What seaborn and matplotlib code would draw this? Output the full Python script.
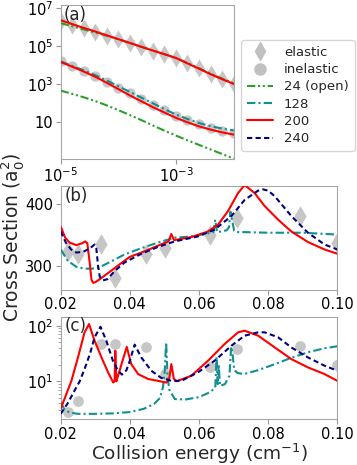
import matplotlib
matplotlib.use("Agg")
import matplotlib.pyplot as plt
import matplotlib.ticker as mticker
from matplotlib.lines import Line2D
import seaborn as sns

# ---------------- panel (a): low energy, log-log ----------------
energy_a = [1e-5, 1.58e-5, 2.51e-5, 3.98e-5, 6.31e-5, 1e-4, 1.58e-4, 2.51e-4,
            3.98e-4, 6.31e-4, 1e-3, 1.58e-3, 2.51e-3, 3.98e-3, 6.31e-3, 1e-2]
elastic_a = [2.0e6, 1.32e6, 8.5e5, 5.6e5, 3.6e5, 2.3e5, 1.45e5, 9.3e4,
             5.9e4, 3.7e4, 2.35e4, 1.26e4, 6.8e3, 3.5e3, 1.9e3, 1.0e3]
inelastic_a = [1.6e4, 8.9e3, 5.0e3, 2.6e3, 1.35e3, 676, 331, 170,
               85, 46, 22.4, 13.2, 7.9, 5.2, 3.7, 2.8]
el24_a = [1.62e6, 1.12e6, 7.6e5, 5.2e5, 3.55e5, 2.3e5, 1.48e5, 9.3e4,
          5.9e4, 3.8e4, 2.4e4, 1.29e4, 6.9e3, 3.6e3, 2.0e3, 1.12e3]
el200_a = [2.3e6, 1.45e6, 9.1e5, 5.9e5, 3.7e5, 2.35e5, 1.48e5, 9.3e4,
           5.9e4, 3.8e4, 2.4e4, 1.26e4, 6.6e3, 3.4e3, 1.86e3, 1.05e3]
in24_a = [468, 316, 209, 132, 78, 44, 24.5, 13.2,
          6.9, 3.7, 2.04, 1.15, 0.66, 0.38, 0.22, 0.126]
in128_a = [1.6e4, 9.3e3, 5.4e3, 3.0e3, 1.58e3, 794, 398, 200,
           100, 50, 25.7, 15.1, 9.3, 6.3, 4.8, 3.8]
in200_a = [1.48e4, 8.5e3, 4.7e3, 2.5e3, 1.2e3, 562, 263, 129,
           63, 33, 17.4, 10.2, 6.2, 4.2, 3.0, 2.3]

# ---------------- points shared by (b) and (c) ----------------
energy_pts = [0.0221, 0.0250, 0.0316, 0.0357, 0.0448, 0.0503, 0.0631, 0.0711, 0.0892, 0.1000]
elastic_pts = [323, 318, 334, 280, 318, 328, 350, 377, 380, 337]
inelastic_pts = [2.75, 4.4, 46.8, 46.8, 40.7, 13.8, 17.8, 38.0, 42.7, 20.0]

# ---------------- panel (b): elastic, linear ----------------
x200_b = [0.0200, 0.0213, 0.0226, 0.0245, 0.0262, 0.0271, 0.0277, 0.0284, 0.0289, 0.0294,
          0.0300, 0.0318, 0.0347, 0.0385, 0.0400, 0.0443, 0.0481, 0.0512, 0.0520, 0.0528,
          0.0578, 0.0626, 0.0655, 0.0684, 0.0713, 0.0732, 0.0761, 0.0790, 0.0829, 0.0867,
          0.0915, 0.0963, 0.1000]
y200_b = [363, 345, 337, 333, 336, 339, 336, 304, 277, 272,
          273, 280, 292, 308, 314, 323, 332, 339, 351, 341,
          346, 355, 366, 388, 417, 430, 417, 396, 374, 355,
          338, 326, 319]
x240_b = [0.0200, 0.0215, 0.0230, 0.0245, 0.0265, 0.0285, 0.0298, 0.0303, 0.0308, 0.0313,
          0.0322, 0.0335, 0.0356, 0.0385, 0.0433, 0.0481, 0.0530, 0.0597, 0.0645, 0.0694,
          0.0732, 0.0771, 0.0785, 0.0800, 0.0819, 0.0867, 0.0915, 0.0963, 0.1000]
y240_b = [355, 337, 326, 321, 322, 328, 334, 328, 300, 282,
          276, 278, 291, 305, 319, 330, 339, 347, 358, 380,
          406, 421, 423, 421, 412, 380, 353, 334, 326]
x128_b = [0.0200, 0.0220, 0.0245, 0.0269, 0.0290, 0.0308, 0.0347, 0.0385, 0.0433, 0.0481,
          0.0530, 0.0578, 0.0626, 0.0642, 0.0647, 0.0652, 0.0665, 0.0680, 0.0687, 0.0691,
          0.0696, 0.0702, 0.0710, 0.0730, 0.0800, 0.0900, 0.1000]
y128_b = [326, 308, 298, 295, 295, 296, 307, 318, 328, 337,
          345, 347, 352, 354, 374, 354, 355, 357, 362, 387,
          372, 356, 354, 354, 353, 353, 350]

# ---------------- panel (c): inelastic, log ----------------
x200_c = [0.0200, 0.0215, 0.0231, 0.0250, 0.0269, 0.0282, 0.0298, 0.0318, 0.0337, 0.0352,
          0.0356, 0.0358, 0.0361, 0.0366, 0.0378, 0.0391, 0.0404, 0.0424, 0.0453, 0.0481,
          0.0506, 0.0514, 0.0520, 0.0527, 0.0535, 0.0578, 0.0626, 0.0674, 0.0713, 0.0732,
          0.0771, 0.0819, 0.0867, 0.0915, 0.0963, 0.1000]
y200_c = [3.2, 5.6, 10.2, 26.9, 75.9, 107, 53.7, 26.9, 14.5, 9.5,
          10.0, 35.5, 10.0, 12.6, 22.4, 41.7, 20.4, 13.5, 11.0, 10.2,
          9.5, 11.2, 20.4, 11.2, 10.0, 12.6, 23.4, 46.8, 75.9, 81.3,
          66.1, 40.7, 25.1, 17.8, 13.5, 10.2]
x240_c = [0.0200, 0.0220, 0.0240, 0.0255, 0.0269, 0.0285, 0.0298, 0.0315, 0.0332, 0.0351,
          0.0365, 0.0377, 0.0390, 0.0400, 0.0414, 0.0433, 0.0462, 0.0491, 0.0520, 0.0549,
          0.0597, 0.0645, 0.0694, 0.0732, 0.0771, 0.0790, 0.0829, 0.0867, 0.0915, 0.0963,
          0.1000]
y240_c = [2.6, 4.0, 6.8, 10.0, 16.6, 31.6, 61.7, 95.5, 53.7, 23.4,
          15.8, 13.2, 15.8, 23.4, 45.7, 26.9, 15.5, 11.5, 10.2, 10.2,
          14.5, 23.4, 43.7, 66.1, 75.9, 75.9, 61.7, 40.7, 26.9, 19.1,
          15.5]
x128_c = [0.0200, 0.0210, 0.0225, 0.0250, 0.0300, 0.0350, 0.0400, 0.0440, 0.0470, 0.0487,
          0.0496, 0.0501, 0.0505, 0.0509, 0.0514, 0.0530, 0.0560, 0.0600, 0.0630, 0.0647,
          0.0651, 0.0654, 0.0657, 0.0661, 0.0675, 0.0688, 0.0693, 0.0697, 0.0702, 0.0712,
          0.0730, 0.0770, 0.0820, 0.0870, 0.0920, 0.0960, 0.1000]
y128_c = [4.2, 3.2, 2.75, 2.6, 2.6, 2.65, 2.8, 3.2, 3.9, 5.0,
          7.9, 15.8, 50.1, 12.6, 7.1, 4.8, 4.7, 5.2, 6.3, 7.6,
          27.5, 8.9, 20.0, 8.3, 8.9, 12.6, 41.7, 31.6, 15.8, 14.1,
          13.5, 15.8, 20.4, 26.9, 33.9, 38.9, 42.7]

ticks_bc = [0.02, 0.04, 0.06, 0.08, 0.10]
tick_labels_bc = ["0.02", "0.04", "0.06", "0.08", "0.10"]

series_names = ["24 (open)", "128", "200", "240"]
series_colors = ["#2ca02c", "#109090", "red", "navy"]
series_styles = [(0, (4, 1.3, 1, 1.3, 1, 1.3)), (0, (4, 1.5, 1, 1.5)), "-", (0, (2.5, 1.6))]

# ---------------- style ----------------
sns.set_style("ticks", rc={
    "axes.edgecolor": "0.65",
    "xtick.color": "0.6",
    "ytick.color": "0.6",
})
plt.rcParams["font.family"] = ["DejaVu Sans"]
plt.rcParams["mathtext.fontset"] = "dejavusans"
plt.rcParams["xtick.labelcolor"] = "black"
plt.rcParams["ytick.labelcolor"] = "black"

fig = plt.figure(figsize=(3.57, 4.65), dpi=100)
ax_a = fig.add_axes([0.170, 0.658, 0.4846, 0.3318])
ax_b = fig.add_axes([0.170, 0.377, 0.7748, 0.2224])
ax_c = fig.add_axes([0.170, 0.0989, 0.7748, 0.22])

LW = 1.5


def draw_line(ax, x, y, idx):
    sns.lineplot(x=x, y=y, ax=ax, color=series_colors[idx], linestyle=series_styles[idx],
                 linewidth=LW, sort=False, estimator=None, legend=False, zorder=3)


def draw_pts(ax, x, y, marker, s):
    sns.scatterplot(x=x, y=y, ax=ax, marker=marker, s=s, color="silver",
                    linewidth=0, alpha=0.9, legend=False, zorder=2)


# panel (a)
ax_a.set_xscale("log")
ax_a.set_yscale("log")
draw_pts(ax_a, energy_a, elastic_a, "d", 85)
draw_pts(ax_a, energy_a, inelastic_a, "o", 55)
draw_line(ax_a, energy_a, el24_a, 0)
draw_line(ax_a, energy_a, in24_a, 0)
draw_line(ax_a, energy_a, in128_a, 1)
draw_line(ax_a, energy_a, el200_a, 2)
draw_line(ax_a, energy_a, in200_a, 2)
ax_a.set_xlim(1e-5, 1e-2)
ax_a.set_ylim(0.12, 1.5e7)
ax_a.xaxis.set_major_locator(mticker.FixedLocator([1e-5, 1e-3]))
ax_a.xaxis.set_major_formatter(mticker.FixedFormatter(["$10^{-5}$", "$10^{-3}$"]))
ax_a.xaxis.set_minor_locator(mticker.NullLocator())
ax_a.yaxis.set_major_locator(mticker.FixedLocator([1e1, 1e3, 1e5, 1e7]))
ax_a.yaxis.set_major_formatter(mticker.FixedFormatter(["10", "$10^3$", "$10^5$", "$10^7$"]))
ax_a.yaxis.set_minor_locator(mticker.NullLocator())

# panel (b)
draw_pts(ax_b, energy_pts, elastic_pts, "d", 110)
draw_line(ax_b, x128_b, y128_b, 1)
draw_line(ax_b, x200_b, y200_b, 2)
draw_line(ax_b, x240_b, y240_b, 3)
ax_b.set_xlim(0.02, 0.10)
ax_b.set_ylim(261, 428)
ax_b.set_yticks([300, 400])
ax_b.set_yticklabels(["300", "400"])

# panel (c)
ax_c.set_yscale("log")
draw_pts(ax_c, energy_pts, inelastic_pts, "o", 60)
draw_line(ax_c, x128_c, y128_c, 1)
draw_line(ax_c, x200_c, y200_c, 2)
draw_line(ax_c, x240_c, y240_c, 3)
ax_c.set_xlim(0.02, 0.10)
ax_c.set_ylim(2.1, 145)
ax_c.yaxis.set_major_locator(mticker.FixedLocator([10, 100]))
ax_c.yaxis.set_major_formatter(mticker.FixedFormatter(["$10^1$", "$10^2$"]))
ax_c.yaxis.set_minor_locator(mticker.LogLocator(base=10, subs=range(2, 10)))
ax_c.yaxis.set_minor_formatter(mticker.NullFormatter())

for ax in (ax_b, ax_c):
    ax.set_xticks(ticks_bc)
    ax.set_xticklabels(tick_labels_bc)

for ax, lab in zip((ax_a, ax_b, ax_c), ("(a)", "(b)", "(c)")):
    for sp in ax.spines.values():
        sp.set_visible(True)
        sp.set_color("0.65")
    ax.tick_params(axis="both", which="major", labelsize=10.5, length=3.5, width=0.8,
                   pad=2, labelcolor="black")
    ax.tick_params(axis="both", which="minor", length=2, width=0.6)
    ax.set_xlabel("")
    ax.set_ylabel("")
    ax.text(0.015, 0.995, lab, transform=ax.transAxes, ha="left", va="top", fontsize=12)

ax_c.set_xlabel("Collision energy (cm$^{-1}$)", fontsize=13.3, labelpad=0)
fig.text(0.036, 0.49, "Cross Section (a$_0^2$)", rotation=90, ha="center", va="center",
         fontsize=13.5)

# legend
handles = [
    Line2D([], [], marker="d", color="silver", linestyle="none", markersize=9),
    Line2D([], [], marker="o", color="silver", linestyle="none", markersize=8),
]
labels = ["elastic", "inelastic"]
for i, name in enumerate(series_names):
    handles.append(Line2D([], [], color=series_colors[i], linestyle=series_styles[i], linewidth=LW))
    labels.append(name)
fig.legend(handles, labels, loc="upper left", bbox_to_anchor=(0.657, 0.928),
           fontsize=9.5, labelspacing=0.32, handlelength=2.0, handletextpad=0.8,
           borderpad=0.45, frameon=True)

fig.savefig("out.png", dpi=100)
